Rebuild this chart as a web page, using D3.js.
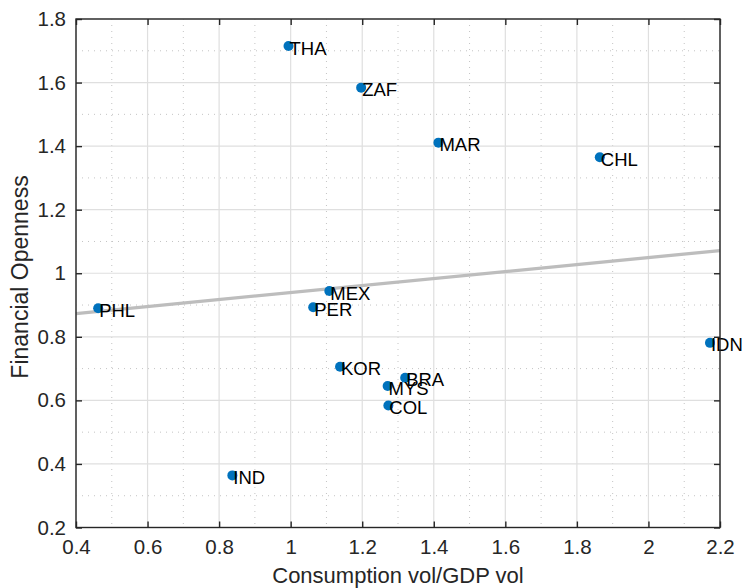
<!DOCTYPE html>
<html>
<head>
<meta charset="utf-8">
<script src="https://cdn.jsdelivr.net/npm/d3@7"></script>
<style>
  html, body { margin: 0; padding: 0; background: #fff; }
  svg { display: block; font-family: "Liberation Sans", Arial, Helvetica, sans-serif; }
</style>
</head>
<body>
<svg id="chart" width="745" height="588"></svg>
<script>
// ---- Data ----
const countries = ["THA", "ZAF", "MAR", "CHL", "MEX", "PHL", "PER", "KOR", "IND", "IDN", "BRA", "MYS", "COL"];
const consumptionVol = [0.994, 1.197, 1.413, 1.864, 1.108, 0.462, 1.063, 1.138, 0.837, 2.172, 1.320, 1.271, 1.273];
const financialOpenness = [1.715, 1.584, 1.411, 1.365, 0.944, 0.890, 0.893, 0.706, 0.364, 0.781, 0.671, 0.645, 0.584];

const xTicks = [0.4, 0.6, 0.8, 1.0, 1.2, 1.4, 1.6, 1.8, 2.0, 2.2];
const xTickLabels = ["0.4", "0.6", "0.8", "1", "1.2", "1.4", "1.6", "1.8", "2", "2.2"];
const yTicks = [0.2, 0.4, 0.6, 0.8, 1.0, 1.2, 1.4, 1.6, 1.8];
const yTickLabels = ["0.2", "0.4", "0.6", "0.8", "1", "1.2", "1.4", "1.6", "1.8"];
const xMinorTicks = [0.5, 0.7, 0.9, 1.1, 1.3, 1.5, 1.7, 1.9, 2.1];
const yMinorTicks = [0.3, 0.5, 0.7, 0.9, 1.1, 1.3, 1.5, 1.7];

const xLabel = "Consumption vol/GDP vol";
const yLabel = "Financial Openness";

// ---- Layout ----
const L = 76, R = 720, T = 19, B = 527.5;
const svg = d3.select("#chart");
const x = d3.scaleLinear().domain([0.4, 2.2]).range([L, R]);
const y = d3.scaleLinear().domain([0.2, 1.8]).range([B, T]);

const axisColor = "#262626";

// Minor grid (dotted)
const g = svg.append("g");
g.selectAll("line.xminor").data(xMinorTicks).join("line")
  .attr("x1", d => x(d)).attr("x2", d => x(d)).attr("y1", T).attr("y2", B)
  .attr("stroke", "#c4c4c4").attr("stroke-width", 1).attr("stroke-dasharray", "1,5");
g.selectAll("line.yminor").data(yMinorTicks).join("line")
  .attr("y1", d => y(d)).attr("y2", d => y(d)).attr("x1", L).attr("x2", R)
  .attr("stroke", "#c4c4c4").attr("stroke-width", 1).attr("stroke-dasharray", "1,5");

// Major grid
g.selectAll("line.xmajor").data(xTicks).join("line")
  .attr("x1", d => x(d)).attr("x2", d => x(d)).attr("y1", T).attr("y2", B)
  .attr("stroke", "#dfdfdf").attr("stroke-width", 1.2);
g.selectAll("line.ymajor").data(yTicks).join("line")
  .attr("y1", d => y(d)).attr("y2", d => y(d)).attr("x1", L).attr("x2", R)
  .attr("stroke", "#dfdfdf").attr("stroke-width", 1.2);

// Least-squares fit line computed from the data
const n = countries.length;
const mx = d3.mean(consumptionVol), my = d3.mean(financialOpenness);
let sxy = 0, sxx = 0;
for (let i = 0; i < n; i++) {
  sxy += (consumptionVol[i] - mx) * (financialOpenness[i] - my);
  sxx += (consumptionVol[i] - mx) ** 2;
}
const slope = sxy / sxx, intercept = my - slope * mx;
const fitX = x.domain();
svg.append("line")
  .attr("x1", x(fitX[0])).attr("y1", y(intercept + slope * fitX[0]))
  .attr("x2", x(fitX[1])).attr("y2", y(intercept + slope * fitX[1]))
  .attr("stroke", "#bdbdbd").attr("stroke-width", 3.3);

// Points
const pts = countries.map((c, i) => ({ c, x: consumptionVol[i], y: financialOpenness[i] }));
svg.append("g").selectAll("circle").data(pts).join("circle")
  .attr("cx", d => x(d.x)).attr("cy", d => y(d.y)).attr("r", 5)
  .attr("fill", "#0072BD");

// Labels
svg.append("g").selectAll("text").data(pts).join("text")
  .attr("x", d => x(d.x) + 1).attr("y", d => y(d.y) + 8.5)
  .attr("font-size", "18.5px").attr("fill", "#000")
  .text(d => d.c);

// Axes box
svg.append("rect").attr("x", L).attr("y", T).attr("width", R - L).attr("height", B - T)
  .attr("fill", "none").attr("stroke", axisColor).attr("stroke-width", 1.4);

// Axes with inward ticks on all four sides
const tickLen = 6;
const xAxisB = d3.axisBottom(x).tickValues(xTicks).tickSizeInner(-tickLen).tickSizeOuter(0)
  .tickFormat((d, i) => xTickLabels[i]).tickPadding(12);
const yAxisL = d3.axisLeft(y).tickValues(yTicks).tickSizeInner(-tickLen).tickSizeOuter(0)
  .tickFormat((d, i) => yTickLabels[i]).tickPadding(10);
const xAxisT = d3.axisTop(x).tickValues(xTicks).tickSizeInner(-tickLen).tickSizeOuter(0).tickFormat("");
const yAxisR = d3.axisRight(y).tickValues(yTicks).tickSizeInner(-tickLen).tickSizeOuter(0).tickFormat("");

function style(sel) {
  sel.select(".domain").remove();
  sel.selectAll(".tick line").attr("stroke", axisColor).attr("stroke-width", 1.4);
  sel.selectAll(".tick text").attr("fill", axisColor)
    .attr("font-size", "20.5px").attr("font-family", "Liberation Sans, Arial, sans-serif");
}
svg.append("g").attr("transform", `translate(0,${B})`).call(xAxisB).call(style);
svg.append("g").attr("transform", `translate(${L},0)`).call(yAxisL).call(style);
svg.append("g").attr("transform", `translate(0,${T})`).call(xAxisT).call(style);
svg.append("g").attr("transform", `translate(${R},0)`).call(yAxisR).call(style);

// Axis titles
svg.append("text").attr("x", (L + R) / 2).attr("y", 583)
  .attr("text-anchor", "middle").attr("font-size", "22px").attr("fill", axisColor)
  .text(xLabel);
svg.append("text").attr("transform", `translate(28,277) rotate(-90)`)
  .attr("text-anchor", "middle").attr("font-size", "23px").attr("fill", axisColor)
  .text(yLabel);
</script>
</body>
</html>
